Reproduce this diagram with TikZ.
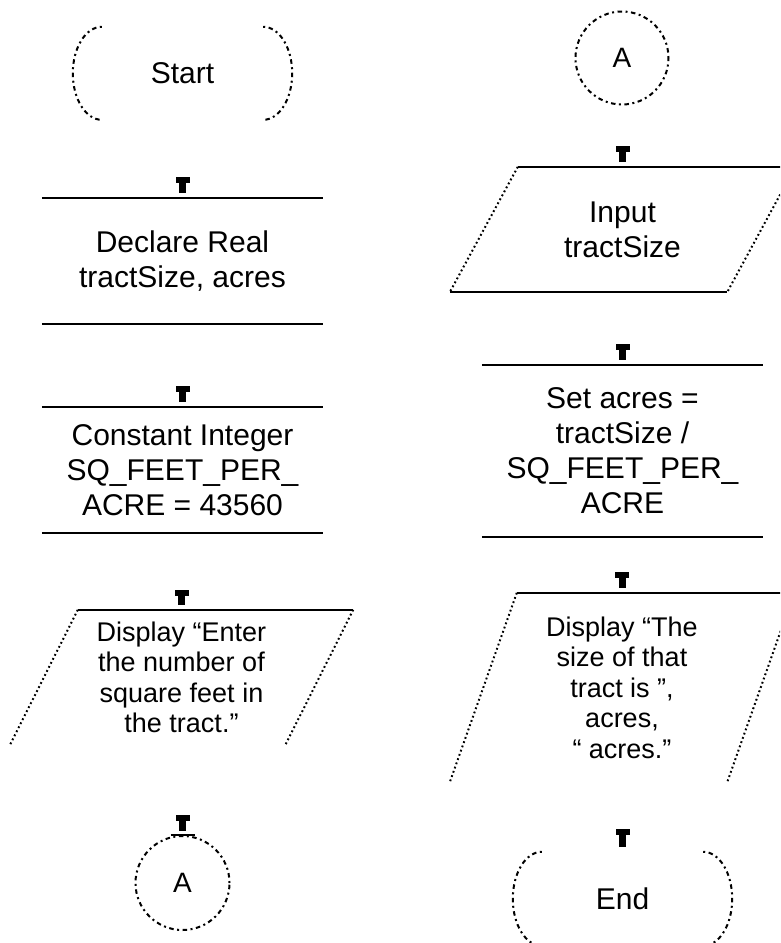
\documentclass[tikz,border=0pt]{standalone}
\usepackage{fontspec}
\setmainfont{Liberation Sans}
\usetikzlibrary{arrows.meta}
\begin{document}
\begin{tikzpicture}[x=1pt,y=-1pt,
  solidline/.style={line width=2pt},
  dotline/.style={line width=2pt, dash pattern=on 1.8pt off 2.7pt},
  dashdotline/.style={line width=2pt, dash pattern=on 2pt off 3.5pt on 4.5pt off 3.5pt},
  box/.style={draw=none, inner sep=0pt, align=center, font=\fontsize{30}{35}\selectfont},
  dispbox/.style={box, font=\fontsize{27}{30.5}\selectfont},
  conbox/.style={circle, draw, dashdotline, inner sep=0pt, font=\fontsize{28}{30}\selectfont},
  conn/.style={line width=7pt, {Rectangle[length=6pt,width=14pt,line width=0pt]}-, shorten >=4.5pt},
]
\useasboundingbox (0,0) rectangle (780,943);
\clip (0,0) rectangle (780,943);

% ---------- left column ----------
\node[box, minimum width=219pt, minimum height=93pt] (start) at (182.5,73.5) {Start};
\node[box, minimum width=281pt, minimum height=126pt] (decl) at (182.5,261) {Declare Real\\tractSize, acres};
\node[box, minimum width=281pt, minimum height=126pt] (const) at (182.5,470) {Constant Integer\\SQ\_FEET\_PER\_\\ACRE = 43560};
\node[dispbox, minimum width=343pt, minimum height=135pt] (disp1) at (181.5,677.5) {Display “Enter\\the number of\\square feet in\\the tract.”};
\node[conbox, minimum size=94pt] (a2) at (182.5,883) {A};

% ---------- right column ----------
\node[conbox, minimum size=93pt] (a1) at (622,58) {A};
\node[box, minimum width=345pt, minimum height=125pt] (inp) at (622.5,229.5) {Input\\tractSize};
\node[box, minimum width=281pt, minimum height=172pt] (setac) at (622.5,451) {Set acres =\\tractSize /\\SQ\_FEET\_PER\_\\ACRE};
\node[dispbox, minimum width=344pt, minimum height=189pt] (disp2) at (622,687.5) {Display “The\\size of that\\tract is ”,\\acres,\\“ acres.”};
\node[box, minimum width=219pt, minimum height=94pt] (end) at (622.5,899) {End};

% ---------- terminal outlines ----------
\draw[dashdotline] ([xshift=29pt]start.north west) arc[start angle=90,end angle=270,x radius=29pt,y radius=46.5pt];
\draw[dashdotline] ([xshift=-29pt]start.north east) arc[start angle=90,end angle=-90,x radius=29pt,y radius=46.5pt];
\draw[dashdotline] ([xshift=29pt]end.north west) arc[start angle=90,end angle=270,x radius=29pt,y radius=47pt];
\draw[dashdotline] ([xshift=-29pt]end.north east) arc[start angle=90,end angle=-90,x radius=29pt,y radius=47pt];

% ---------- process boxes (top and bottom lines) ----------
\foreach \n in {decl,const,setac}{
  \draw[solidline] (\n.north west) -- (\n.north east);
  \draw[solidline] (\n.south west) -- (\n.south east);
}

% ---------- parallelograms ----------
\draw[solidline] ([xshift=68pt]disp1.north west) -- (disp1.north east);
\draw[dotline] ([xshift=68pt]disp1.north west) -- (disp1.south west);
\draw[dotline] (disp1.north east) -- ([xshift=-68pt]disp1.south east);

\draw[solidline] ([xshift=68pt]inp.north west) -- (inp.north east);
\draw[solidline] (inp.south west) -- ([xshift=-68pt]inp.south east);
\draw[dotline] ([xshift=68pt]inp.north west) -- (inp.south west);
\draw[dotline] (inp.north east) -- ([xshift=-68pt]inp.south east);

\draw[solidline] ([xshift=67pt]disp2.north west) -- (disp2.north east);
\draw[dotline] ([xshift=67pt]disp2.north west) -- (disp2.south west);
\draw[dotline] (disp2.north east) -- ([xshift=-67pt]disp2.south east);

% small flat mark on top of connector A
\draw[solidline] ([xshift=-12pt]a2.north) -- ([xshift=12pt]a2.north);

% ---------- connectors (only arrow heads visible) ----------
\coordinate (c1) at (182.5,177);
\coordinate (c2) at (182.5,386);
\coordinate (c3) at (181.5,590);
\coordinate (c4) at (182.5,815);
\coordinate (c5) at (622.5,146);
\coordinate (c6) at (622.5,344);
\coordinate (c7) at (622,572);
\coordinate (c8) at (622.5,829);
\draw[conn] (c1) -- (decl.north);
\draw[conn] (c2) -- (const.north);
\draw[conn] (c3) -- (disp1.north);
\draw[conn] (c4) -- (a2.north);
\draw[conn] (c5) -- (inp.north);
\draw[conn] (c6) -- (setac.north);
\draw[conn] (c7) -- (disp2.north);
\draw[conn] (c8) -- (end.north);
\end{tikzpicture}
\end{document}
